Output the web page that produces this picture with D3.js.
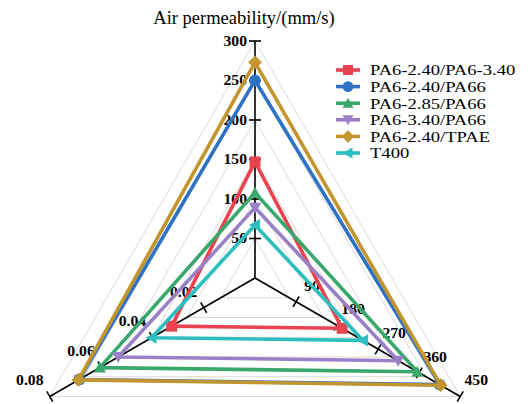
<!DOCTYPE html>
<html>
<head>
<meta charset="utf-8">
<script src="https://cdn.jsdelivr.net/npm/d3@7"></script>
<style>
body { margin: 0; background: #fff; }
text { font-family: "Liberation Serif", "Times New Roman", serif; }
</style>
</head>
<body>
<svg id="chart" width="531" height="404"></svg>
<script>
// series names, colours and values (air permeability, axis 2, axis 3)
var names = ["PA6-2.40/PA6-3.40", "PA6-2.40/PA66", "PA6-2.85/PA66", "PA6-3.40/PA66", "PA6-2.40/TPAE", "T400"];
var colors = ["#e8434f", "#2e72c4", "#3aa86c", "#9a80c6", "#c2952e", "#2dbfbf"];
var symbols = ["square", "circle", "triUp", "triDown", "diamond", "triLeft"];
var airPerm = [147, 250, 108, 89, 273, 67];
var rightVals = [191, 405, 356, 314, 407, 237];
var leftVals = [0.0325, 0.0685, 0.0605, 0.0533, 0.0688, 0.0403];

var topTicks = [50, 100, 150, 200, 250, 300];
var rightTicks = [90, 180, 270, 360, 450];
var leftTicks = [0.02, 0.04, 0.06, 0.08];

var svg = d3.select("#chart");
var cx = 255, cy = 278, R = 237;

// angles: top, bottom-right, bottom-left
var angles = [-Math.PI / 2, Math.PI / 6, 5 * Math.PI / 6];
var scales = [
    d3.scaleLinear().domain([0, 300]).range([0, R]),
    d3.scaleLinear().domain([0, 450]).range([0, R]),
    d3.scaleLinear().domain([0, 0.08]).range([0, R])
];

function pt(axis, v) {
    var r = scales[axis](v);
    return [cx + r * Math.cos(angles[axis]), cy + r * Math.sin(angles[axis])];
}

// grid triangles
var gridLevels = d3.range(1, 7);
svg.append("g").selectAll("polygon")
    .data(gridLevels)
    .enter().append("polygon")
    .attr("points", function (k) {
        return [0, 1, 2].map(function (a) {
            var r = R * k / 6;
            return [cx + r * Math.cos(angles[a]), cy + r * Math.sin(angles[a])].join(",");
        }).join(" ");
    })
    .attr("fill", "none")
    .attr("stroke", "#d9d9d9")
    .attr("stroke-width", 1);

// axes
var axisG = svg.append("g");
[0, 1, 2].forEach(function (a) {
    var e = pt(a, scales[a].domain()[1]);
    axisG.append("line")
        .attr("x1", cx).attr("y1", cy)
        .attr("x2", e[0]).attr("y2", e[1])
        .attr("stroke", "#000").attr("stroke-width", 1.6);
});

function tickMark(axis, v) {
    var p = pt(axis, v);
    var nx = -Math.sin(angles[axis]), ny = Math.cos(angles[axis]);
    axisG.append("line")
        .attr("x1", p[0] - nx * 6).attr("y1", p[1] - ny * 6)
        .attr("x2", p[0] + nx * 6).attr("y2", p[1] + ny * 6)
        .attr("stroke", "#000").attr("stroke-width", 1.6);
}

topTicks.forEach(function (v) { tickMark(0, v); });
rightTicks.forEach(function (v) { tickMark(1, v); });
leftTicks.forEach(function (v) { tickMark(2, v); });

function tickLabel(x, y, txt, anchor) {
    axisG.append("text")
        .attr("transform", "translate(" + x + "," + y + ") scale(1.12,1)")
        .attr("text-anchor", anchor)
        .attr("dy", "0.35em")
        .attr("font-size", 14)
        .attr("font-weight", "bold")
        .text(txt);
}

topTicks.forEach(function (v) {
    var p = pt(0, v);
    tickLabel(p[0] - 8, p[1], v, "end");
});
rightTicks.forEach(function (v) {
    var p = pt(1, v);
    tickLabel(p[0] + 16, p[1] - 16, v, "middle");
});
leftTicks.forEach(function (v) {
    var p = pt(2, v);
    tickLabel(p[0] - 20, p[1] - 16, v, "middle");
});

// title
svg.append("text")
    .attr("x", 244).attr("y", 24)
    .attr("text-anchor", "middle")
    .attr("font-size", 18.5)
    .text("Air permeability/(mm/s)");

// marker shapes
function markerPath(sym, s) {
    var h = s / 2;
    if (sym === "square") return "M" + (-h) + "," + (-h) + "h" + s + "v" + s + "h" + (-s) + "Z";
    if (sym === "circle") return d3.symbol().type(d3.symbolCircle).size(Math.PI * h * h * 1.15)();
    if (sym === "triUp") return "M0," + (-h * 1.1) + "L" + (h * 1.1) + "," + (h * 0.9) + "L" + (-h * 1.1) + "," + (h * 0.9) + "Z";
    if (sym === "triDown") return "M0," + (h * 1.1) + "L" + (h * 1.1) + "," + (-h * 0.9) + "L" + (-h * 1.1) + "," + (-h * 0.9) + "Z";
    if (sym === "diamond") return "M0," + (-h * 1.25) + "L" + (h * 1.25) + ",0L0," + (h * 1.25) + "L" + (-h * 1.25) + ",0Z";
    if (sym === "triLeft") return "M" + (-h * 1.1) + ",0L" + (h * 0.9) + "," + (-h * 1.1) + "L" + (h * 0.9) + "," + (h * 1.1) + "Z";
}

// series
var series = names.map(function (n, i) {
    return {
        name: n, color: colors[i], sym: symbols[i],
        pts: [pt(0, airPerm[i]), pt(1, rightVals[i]), pt(2, leftVals[i])]
    };
});

var line = d3.line().curve(d3.curveLinearClosed);

var sg = svg.append("g").selectAll("g")
    .data(series)
    .enter().append("g");

sg.append("path")
    .attr("d", function (d) { return line(d.pts); })
    .attr("fill", "none")
    .attr("stroke", function (d) { return d.color; })
    .attr("stroke-width", 3.6)
    .attr("stroke-linejoin", "round");

sg.each(function (d) {
    d3.select(this).selectAll("path.mk")
        .data(d.pts)
        .enter().append("path")
        .attr("class", "mk")
        .attr("transform", function (p) { return "translate(" + p[0] + "," + p[1] + ")"; })
        .attr("d", markerPath(d.sym, 11))
        .attr("fill", d.color);
});

// legend
var lg = svg.append("g").attr("transform", "translate(336,70)");
var items = lg.selectAll("g")
    .data(series)
    .enter().append("g")
    .attr("transform", function (d, i) { return "translate(0," + (i * 16.6) + ")"; });

items.append("line")
    .attr("x1", 0).attr("x2", 24)
    .attr("stroke", function (d) { return d.color; })
    .attr("stroke-width", 3.6);
items.append("path")
    .attr("transform", "translate(12,0)")
    .attr("d", function (d) { return markerPath(d.sym, 10); })
    .attr("fill", function (d) { return d.color; });
items.append("text")
    .attr("transform", "translate(34,0) scale(1.2,1)")
    .attr("dy", "0.35em")
    .attr("font-size", 15.5)
    .text(function (d) { return d.name; });
</script>
</body>
</html>
